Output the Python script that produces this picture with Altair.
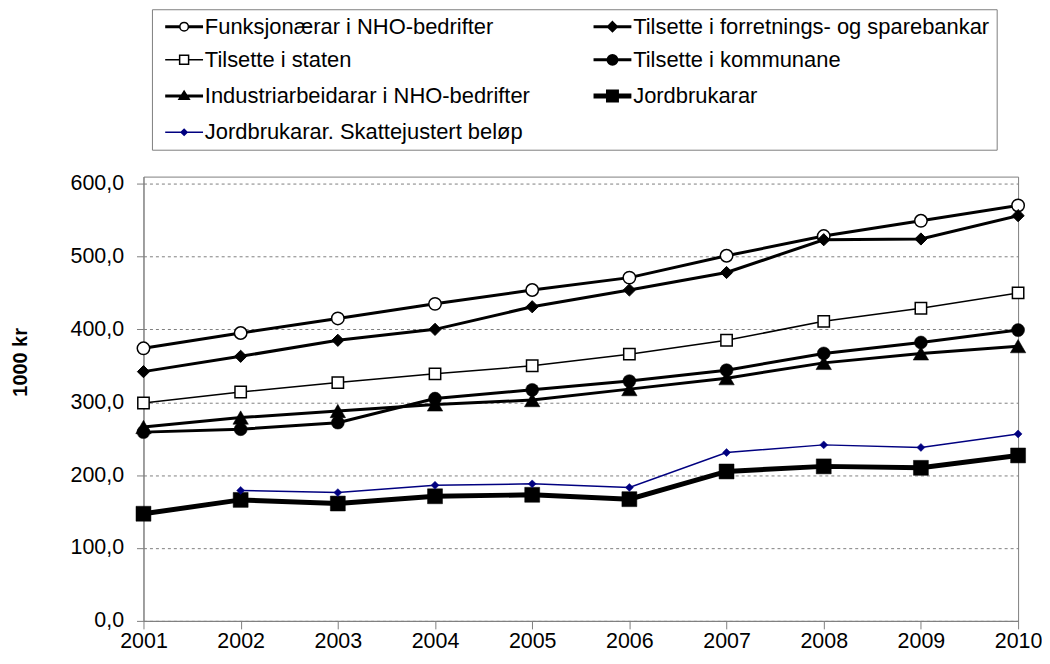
import altair as alt
import pandas as pd

# ---------------- data ----------------
years = [2001, 2002, 2003, 2004, 2005, 2006, 2007, 2008, 2009, 2010]

series_names = [
    "Funksjonærar i NHO-bedrifter",
    "Tilsette i forretnings- og sparebankar",
    "Tilsette i staten",
    "Tilsette i kommunane",
    "Industriarbeidarar i NHO-bedrifter",
    "Jordbrukarar",
    "Jordbrukarar. Skattejustert beløp",
]

funksjonaerar = [374, 395, 415, 435, 454, 471, 501, 528, 549, 570]
forretning = [342, 363, 385, 400, 431, 454, 478, 523, 524, 556]
staten = [299, 314, 327, 339, 350, 366, 385, 411, 429, 450]
kommunane = [259, 263, 272, 305, 317, 329, 344, 367, 382, 399]
industri = [266, 279, 288, 297, 303, 318, 333, 354, 367, 377]
jordbrukarar = [147, 166, 161, 171, 173, 167, 205, 212, 210, 227]
skattejustert = [None, 179, 176, 186, 188, 183, 231, 241.5, 238, 256.5]

y_ticks = [0, 100, 200, 300, 400, 500, 600]

all_values = [funksjonaerar, forretning, staten, kommunane, industri,
              jordbrukarar, skattejustert]

rows = []
for name, vals in zip(series_names, all_values):
    for yr, v in zip(years, vals):
        if v is not None:
            rows.append({"year": yr, "series": name, "value": v})
df = pd.DataFrame(rows)

# ---------------- styles ----------------
NAVY = "#000080"
styles = {
    series_names[0]: dict(lc="black", lw=3, shape="circle", size=156, fill="white", stroke="black", sw=1.5),
    series_names[1]: dict(lc="black", lw=3, shape="diamond", size=150, fill="black", stroke="black", sw=1),
    series_names[2]: dict(lc="black", lw=1.5, shape="square", size=130, fill="white", stroke="black", sw=1.5),
    series_names[3]: dict(lc="black", lw=3, shape="circle", size=169, fill="black", stroke="black", sw=0.5),
    series_names[4]: dict(lc="black", lw=3, shape="triangle-up", size=240, fill="black", stroke="black", sw=0.5),
    series_names[5]: dict(lc="black", lw=5, shape="square", size=225, fill="black", stroke="black", sw=0.5),
    series_names[6]: dict(lc=NAVY, lw=1.5, shape="diamond", size=64, fill=NAVY, stroke=NAVY, sw=0.5),
}

# legend symbols (pixel units, symbolSize=4 -> 1 unit = 1 px)
legend_paths = [
    "M-19,-0.7H-4.3M-19,0.7H-4.3M4.3,-0.7H19M4.3,0.7H19"
    "M4.3,0A4.3,4.3,0,1,1,-4.3,0A4.3,4.3,0,1,1,4.3,0Z",
    "M-19,0H19M0,-4L4,0L0,4L-4,0Z",
    "M-19,0H-4.5M4.5,0H19M-4.5,-4.5H4.5V4.5H-4.5Z",
    "M-19,0H19M4.5,0A4.5,4.5,0,1,1,-4.5,0A4.5,4.5,0,1,1,4.5,0Z",
    "M-19,0H19M0,-3.5L3.8,2.5L-3.8,2.5Z",
    "M-19,0H19M-4,-4H4V4H-4Z",
    "M-19,0H19M0,-3L3,0L0,3L-3,0Z",
]
legend_fills = ["white", "black", "white", "black", "black", "black", NAVY]
legend_strokes = ["black", "black", "black", "black", "black", "black", NAVY]
legend_sws = [1.5, 3, 1.5, 3, 3, 5, 1.5]

FONT = "Liberation Sans"

x_enc = alt.X(
    "year:Q",
    scale=alt.Scale(domain=[2001, 2010], nice=False, zero=False),
    axis=alt.Axis(values=years, format="d", title=None, grid=False,
                  tickSize=8, labelPadding=2, labelFontSize=21.5,
                  labelColor="black", tickColor="#808080",
                  domainColor="#808080", labelFont=FONT, labelFlush=False),
)
y_enc = alt.Y(
    "value:Q",
    scale=alt.Scale(domain=[0, 609.6], nice=False),
    axis=alt.Axis(values=y_ticks,
                  labelExpr="replace(format(datum.value, '.1f'), '.', ',')",
                  title="1000 kr", titleFontSize=20, titleFontWeight="bold",
                  titleFont=FONT, titleColor="black", titleX=-113, titleY=186,
                  grid=True, gridDash=[3, 3], gridColor="#808080",
                  tickSize=7, labelPadding=13, labelFontSize=21.5,
                  labelColor="black", tickColor="#808080",
                  domainColor="#808080", labelFont=FONT, labelFlush=False),
)

layers = []
for name in series_names:
    st = styles[name]
    base = alt.Chart(df).transform_filter(alt.datum.series == name)
    layers.append(
        base.mark_line(color=st["lc"], strokeWidth=st["lw"]).encode(x=x_enc, y=y_enc)
    )
    layers.append(
        base.mark_point(shape=st["shape"], size=st["size"], filled=True,
                        fill=st["fill"], stroke=st["stroke"],
                        strokeWidth=st["sw"], opacity=1).encode(x=x_enc, y=y_enc)
    )

leg = alt.Legend(
    title=None, orient="none", legendX=8.5, legendY=-168, columns=2,
    direction="horizontal",
    columnPadding=52, rowPadding=11.3, padding=6.5, symbolSize=4,
    symbolOffset=14.8, labelOffset=9.8, labelFontSize=22, labelFont=FONT,
    labelLimit=600, labelColor="black", strokeColor="#808080",
    fillColor="white", symbolOpacity=1,
)

legend_layer = alt.Chart(df).transform_filter("datum.value < -1000").mark_point(
    filled=True, opacity=1
).encode(
    shape=alt.Shape("series:N", scale=alt.Scale(domain=series_names, range=legend_paths), legend=leg),
    fill=alt.Fill("series:N", scale=alt.Scale(domain=series_names, range=legend_fills), legend=leg),
    stroke=alt.Stroke("series:N", scale=alt.Scale(domain=series_names, range=legend_strokes), legend=leg),
    strokeWidth=alt.StrokeWidth("series:N", scale=alt.Scale(type="ordinal", domain=series_names, range=legend_sws), legend=leg),
)

chart = alt.layer(*layers, legend_layer).properties(
    width=878, height=446,
    autosize=alt.AutoSizeParams(type="none"),
    padding={"left": 136, "top": 168, "right": 24, "bottom": 34},
).configure(font=FONT).configure_view(stroke="#808080", strokeWidth=1)

chart.save("out.html", embed_options={"renderer": "svg", "actions": False})
